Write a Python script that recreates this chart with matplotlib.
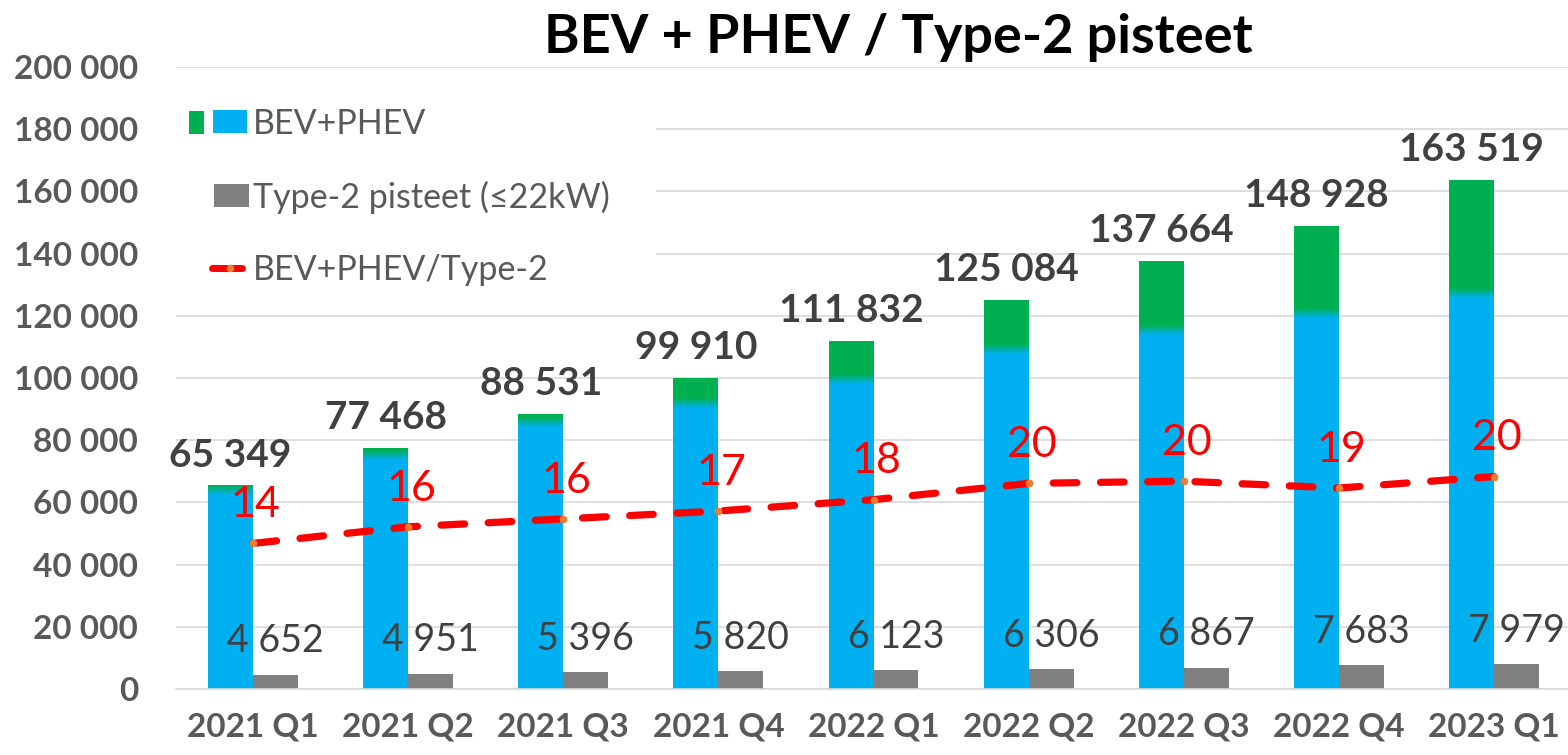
import numpy as np
import matplotlib
matplotlib.use("Agg")
import matplotlib.pyplot as plt
from matplotlib.patches import Rectangle, Patch
from matplotlib.lines import Line2D
from matplotlib.legend_handler import HandlerBase
from matplotlib.colors import LinearSegmentedColormap

plt.rcParams['font.family'] = ['Lato', 'DejaVu Sans']
plt.rcParams['lines.scale_dashes'] = False

# Data
quarters = ['2021 Q1', '2021 Q2', '2021 Q3', '2021 Q4', '2022 Q1',
            '2022 Q2', '2022 Q3', '2022 Q4', '2023 Q1']
bev_phev = [65349, 77468, 88531, 99910, 111832, 125084, 137664, 148928, 163519]
type2 = [4652, 4951, 5396, 5820, 6123, 6306, 6867, 7683, 7979]
# green top part of the gradient bars (estimated)
green_top = [1500, 2300, 2800, 8000, 12200, 15800, 22200, 28000, 36300]

# Colours
BLUE = '#00B0F0'
GREEN = '#00B050'
GRAY = '#808080'
RED = '#FF0000'
ORANGE = '#ED7D31'
GRID = '#D9D9D9'
TXT = '#595959'
LBL = '#404040'

x = np.arange(len(quarters))
total = np.array(bev_phev)
green = np.array(green_top)
blue = total - green
t2 = np.array(type2)
ratio = total / t2

W, H = 1568, 755
fig = plt.figure(figsize=(W / 100, H / 100), dpi=100)
ax = fig.add_axes([175.5 / W, (H - 689) / H, (W - 175.5) / W, 622 / H])

bw = 0.29
ax.bar(x - bw / 2, blue, bw, color=BLUE, zorder=2)
ax.bar(x - bw / 2, green, bw, bottom=blue, color=GREEN, zorder=2)
ax.bar(x + bw / 2, t2, bw, color=GRAY, zorder=2)

# soft blend between blue and green
cmap = LinearSegmentedColormap.from_list('bg', [BLUE, GREEN])
grad = np.linspace(0, 1, 64).reshape(-1, 1)
for xi, b in zip(x, blue):
    ax.imshow(grad, cmap=cmap, aspect='auto', origin='lower',
              extent=(xi - bw, xi, b - 1600, b + 1600), zorder=3,
              interpolation='bilinear')

ax.set_xlim(-0.5, 8.5 - 3.5 / 155)
ax.set_ylim(0, 200000)
ax.set_axisbelow(True)
ax.yaxis.grid(True, color=GRID, lw=1.2)
ax.set_yticks(range(0, 200001, 20000))
ax.set_yticklabels([f"{v:,}".replace(',', ' ') for v in range(0, 200001, 20000)])
ax.set_xticks(x)
ax.set_xticklabels(quarters)
ax.tick_params(axis='y', length=0, pad=27, labelsize=24, labelcolor=TXT)
ax.tick_params(axis='x', length=0, pad=17, labelsize=24, labelcolor=TXT)
for lab in ax.get_xticklabels() + ax.get_yticklabels():
    lab.set_fontweight('bold')
for s in ['top', 'right', 'left']:
    ax.spines[s].set_visible(False)
ax.spines['bottom'].set_color(GRID)
ax.spines['bottom'].set_linewidth(1.2)

# totals, centred on the blue bars
for xi, v in zip(x, total):
    ax.annotate(f"{v:,}".replace(',', ' '), (xi - bw / 2, v), xytext=(0, 22),
                textcoords='offset points', ha='center', va='center',
                fontsize=28, fontweight='bold', color=LBL, zorder=6)
# type-2 counts, centred on the gray bars
for xi, v in zip(x, t2):
    ax.annotate(f"{v:,}".replace(',', ' '), (xi + bw / 2, v), xytext=(0, 24),
                textcoords='offset points', ha='center', va='center',
                fontsize=27, color=LBL, zorder=6)

# white box behind legend
ax.add_patch(Rectangle((0, (689 - 310) / 622), (656 - 175.5) / (W - 175.5),
                       (310 - 70) / 622, transform=ax.transAxes,
                       fc='white', ec='none', zorder=1))

# ratio on hidden secondary axis
ax2 = ax.twinx()
ax2.set_ylim(0, 60)
ax2.axis('off')
ax2.plot(x, ratio, color=RED, lw=5.2, dashes=(17, 17), dash_capstyle='round',
         marker='o', markersize=4.5, markerfacecolor=ORANGE,
         markeredgecolor=ORANGE, zorder=4)
for xi, r in zip(x, ratio):
    ax2.annotate(f"{r:.0f}", (xi, r), xytext=(2, 27.5), textcoords='offset points',
                 ha='center', va='center', fontsize=31, color=RED, zorder=6)


class BoxPair(HandlerBase):
    def create_artists(self, legend, orig_handle, xd, yd, width, height, fontsize, trans):
        x0, y0 = -xd, -yd
        g = Rectangle((x0, y0 - 0.05 * height), width * 0.25, height,
                      fc=GREEN, ec='none', transform=trans)
        b = Rectangle((x0 + width * 0.4, y0), width * 0.58, height,
                      fc=BLUE, ec='none', transform=trans)
        return [g, b]


class GrayBox(HandlerBase):
    def create_artists(self, legend, orig_handle, xd, yd, width, height, fontsize, trans):
        x0, y0 = -xd, -yd
        return [Rectangle((x0 + width * 0.42, y0), width * 0.58, height,
                          fc=GRAY, ec='none', transform=trans)]


class RatioLine(HandlerBase):
    def create_artists(self, legend, orig_handle, xd, yd, width, height, fontsize, trans):
        x0, y0 = -xd, -yd
        ym = y0 + height / 2
        ln = Line2D([x0 + width * 0.38, x0 + width * 0.88], [ym, ym], color=RED,
                    lw=5, solid_capstyle='round', transform=trans)
        dot = Line2D([x0 + width * 0.68], [ym], marker='o', ms=4.5, color=ORANGE,
                     ls='none', transform=trans)
        return [ln, dot]


h1, h2, h3 = Patch(), Patch(), Line2D([], [])
leg = ax2.legend([h1, h2, h3], ['BEV+PHEV', 'Type-2 pisteet (≤22kW)', 'BEV+PHEV/Type-2'],
                 handler_map={h1: BoxPair(), h2: GrayBox(), h3: RatioLine()},
                 loc='upper left', bbox_to_anchor=(0, (689 - 94) / 622),
                 borderaxespad=0, borderpad=0.4, frameon=False, fontsize=24.5,
                 labelcolor=TXT, handlelength=1.75, handleheight=0.65,
                 handletextpad=0.12, labelspacing=1.2)

fig.text(898 / W, 1 - 38 / H, 'BEV + PHEV / Type-2 pisteet', ha='center', va='center',
         fontsize=39, fontweight='bold', color='black')

fig.savefig('out.png', dpi=100)
